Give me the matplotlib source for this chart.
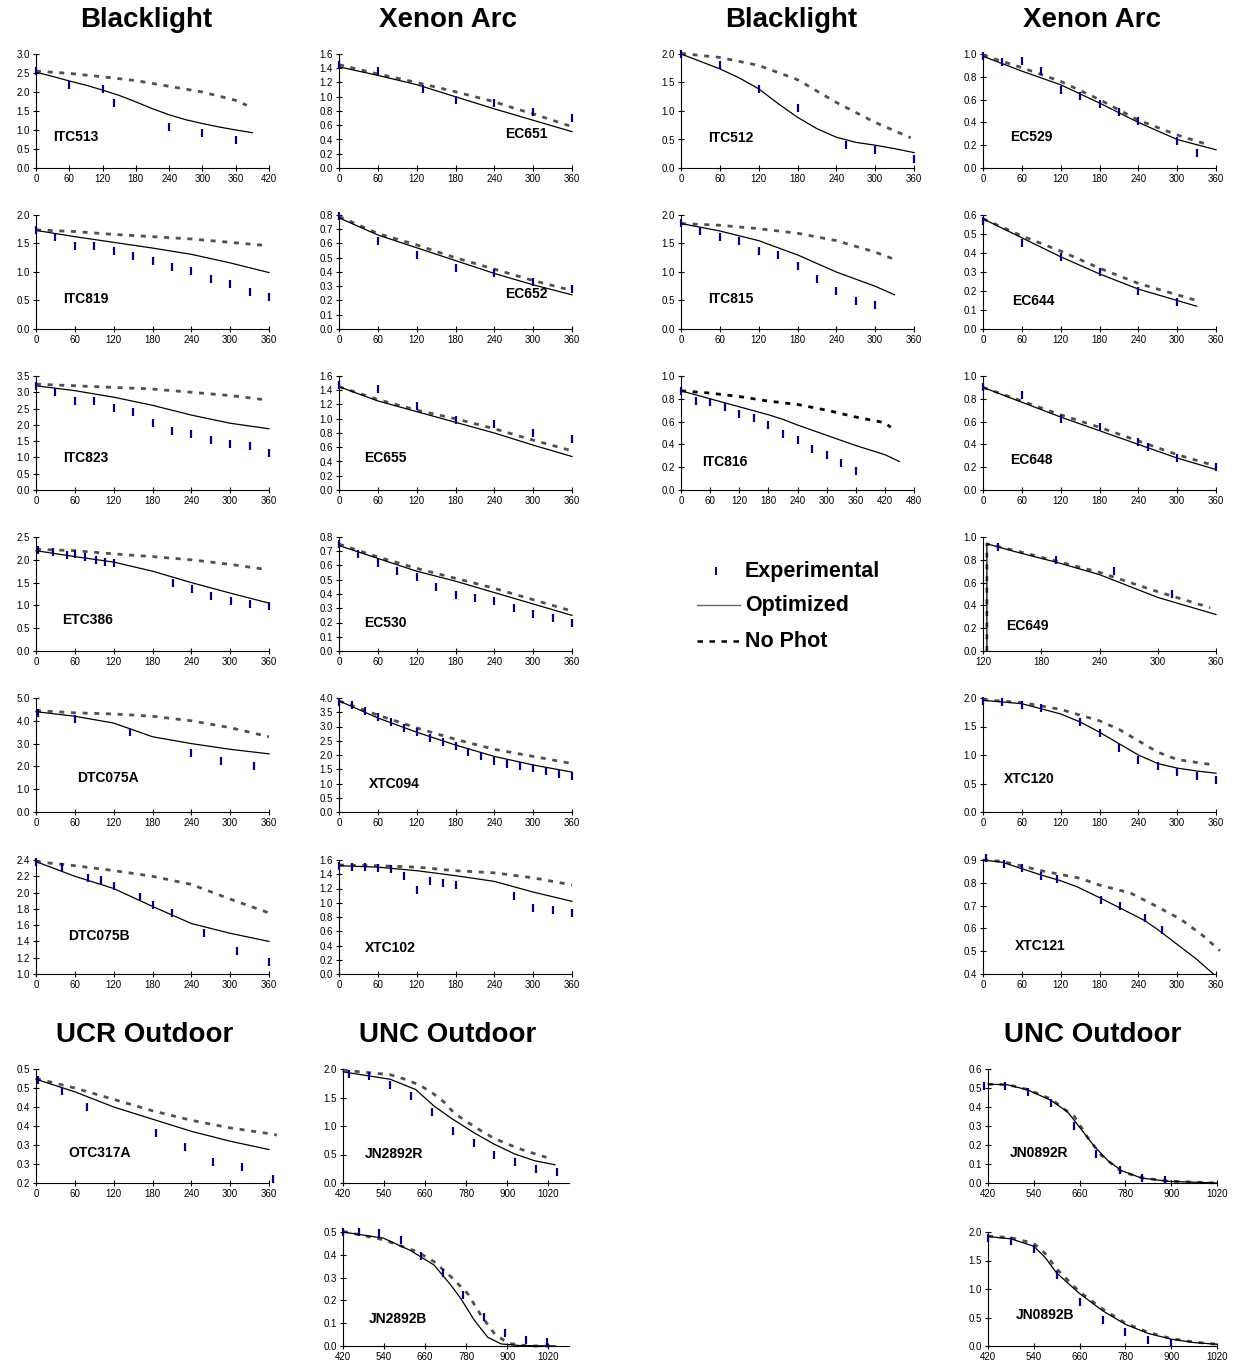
import matplotlib.pyplot as plt
from matplotlib.lines import Line2D
from matplotlib.ticker import FormatStrFormatter, MultipleLocator

plt.rcParams['font.family'] = ['Liberation Sans', 'DejaVu Sans']

# ---------------- data (time in minutes, y = concentration) ----------------
# Blacklight, left column
itc513_exp_t = [0, 60, 120, 140, 240, 300, 360]
itc513_exp_y = [2.55, 2.18, 2.09, 1.71, 1.09, 0.93, 0.74]
itc513_opt_t = [0, 30, 60, 90, 120, 150, 180, 210, 240, 270, 300, 330, 360, 390]
itc513_opt_y = [2.52, 2.41, 2.29, 2.18, 2.05, 1.91, 1.74, 1.56, 1.40, 1.27, 1.17, 1.08, 1.00, 0.93]
itc513_nop_t = [0, 60, 120, 180, 240, 300, 360, 380]
itc513_nop_y = [2.55, 2.49, 2.40, 2.30, 2.15, 2.00, 1.78, 1.65]

itc819_exp_t = [0, 30, 60, 90, 120, 150, 180, 210, 240, 270, 300, 330, 360]
itc819_exp_y = [1.73, 1.62, 1.45, 1.46, 1.37, 1.28, 1.19, 1.08, 1.01, 0.87, 0.79, 0.65, 0.56]
itc819_opt_t = [0, 60, 120, 180, 240, 300, 360]
itc819_opt_y = [1.73, 1.62, 1.52, 1.42, 1.31, 1.16, 0.99]
itc819_nop_t = [0, 60, 120, 180, 240, 300, 350]
itc819_nop_y = [1.74, 1.71, 1.66, 1.62, 1.58, 1.52, 1.47]

itc823_exp_t = [0, 30, 60, 90, 120, 150, 180, 210, 240, 270, 300, 330, 360]
itc823_exp_y = [3.20, 3.00, 2.72, 2.72, 2.52, 2.40, 2.05, 1.82, 1.73, 1.55, 1.42, 1.35, 1.15]
itc823_opt_t = [0, 60, 120, 180, 240, 300, 360]
itc823_opt_y = [3.20, 3.05, 2.85, 2.60, 2.30, 2.05, 1.88]
itc823_nop_t = [0, 60, 120, 180, 240, 300, 350]
itc823_nop_y = [3.25, 3.20, 3.15, 3.10, 3.00, 2.90, 2.78]

etc386_exp_t = [3, 26, 48, 60, 76, 92, 106, 120, 211, 241, 270, 301, 331, 360]
etc386_exp_y = [2.22, 2.17, 2.11, 2.13, 2.07, 2.00, 1.96, 1.93, 1.50, 1.37, 1.20, 1.10, 1.03, 0.98]
etc386_opt_t = [0, 60, 120, 180, 240, 300, 360]
etc386_opt_y = [2.20, 2.07, 1.95, 1.75, 1.50, 1.27, 1.05]
etc386_nop_t = [0, 60, 120, 180, 240, 300, 350]
etc386_nop_y = [2.23, 2.20, 2.13, 2.07, 2.00, 1.90, 1.80]

dtc075a_exp_t = [3, 60, 146, 239, 286, 337]
dtc075a_exp_y = [4.35, 4.10, 3.50, 2.60, 2.25, 2.00]
dtc075a_opt_t = [0, 60, 120, 180, 240, 300, 360]
dtc075a_opt_y = [4.40, 4.20, 3.90, 3.30, 3.00, 2.75, 2.55]
dtc075a_nop_t = [0, 60, 120, 180, 240, 300, 360]
dtc075a_nop_y = [4.45, 4.35, 4.30, 4.20, 4.00, 3.70, 3.30]

dtc075b_exp_t = [0, 40, 80, 100, 120, 160, 180, 210, 260, 310, 360]
dtc075b_exp_y = [2.38, 2.32, 2.18, 2.15, 2.08, 1.95, 1.85, 1.75, 1.50, 1.28, 1.15]
dtc075b_opt_t = [0, 60, 120, 180, 240, 300, 360]
dtc075b_opt_y = [2.38, 2.20, 2.05, 1.83, 1.62, 1.50, 1.40]
dtc075b_nop_t = [0, 60, 120, 180, 240, 300, 360]
dtc075b_nop_y = [2.38, 2.33, 2.27, 2.20, 2.10, 1.92, 1.75]

# Xenon arc, second column
ec651_exp_t = [0, 60, 130, 180, 240, 300, 360]
ec651_exp_y = [1.45, 1.36, 1.11, 0.95, 0.91, 0.79, 0.70]
ec651_opt_t = [0, 60, 120, 180, 240, 300, 360]
ec651_opt_y = [1.42, 1.30, 1.17, 1.00, 0.83, 0.67, 0.51]
ec651_nop_t = [0, 60, 120, 180, 240, 270, 300, 330, 360]
ec651_nop_y = [1.45, 1.32, 1.20, 1.07, 0.93, 0.84, 0.76, 0.67, 0.58]

ec652_exp_t = [0, 60, 120, 180, 240, 300, 360]
ec652_exp_y = [0.79, 0.62, 0.52, 0.43, 0.39, 0.33, 0.28]
ec652_opt_t = [0, 60, 120, 180, 240, 300, 360]
ec652_opt_y = [0.78, 0.66, 0.57, 0.48, 0.39, 0.31, 0.24]
ec652_nop_t = [0, 60, 120, 180, 240, 300, 360]
ec652_nop_y = [0.79, 0.67, 0.59, 0.50, 0.42, 0.34, 0.27]

ec655_exp_t = [0, 60, 120, 180, 240, 300, 360]
ec655_exp_y = [1.48, 1.42, 1.18, 0.98, 0.92, 0.80, 0.72]
ec655_opt_t = [0, 60, 120, 180, 240, 300, 360]
ec655_opt_y = [1.45, 1.25, 1.10, 0.95, 0.80, 0.63, 0.47]
ec655_nop_t = [0, 60, 120, 180, 240, 300, 360]
ec655_nop_y = [1.45, 1.27, 1.12, 1.00, 0.86, 0.70, 0.55]

ec530_exp_t = [0, 30, 60, 90, 120, 150, 180, 210, 240, 270, 300, 330, 360]
ec530_exp_y = [0.75, 0.68, 0.62, 0.56, 0.52, 0.45, 0.39, 0.37, 0.35, 0.30, 0.26, 0.23, 0.20]
ec530_opt_t = [0, 60, 120, 180, 240, 300, 360]
ec530_opt_y = [0.74, 0.65, 0.56, 0.49, 0.41, 0.33, 0.25]
ec530_nop_t = [0, 60, 120, 180, 240, 300, 360]
ec530_nop_y = [0.75, 0.66, 0.58, 0.51, 0.44, 0.36, 0.28]

xtc094_exp_t = [0, 20, 40, 60, 80, 100, 120, 140, 160, 180, 200, 220, 240, 260, 280, 300, 320, 340, 360]
xtc094_exp_y = [3.85, 3.75, 3.55, 3.35, 3.15, 2.95, 2.80, 2.60, 2.45, 2.30, 2.10, 1.95, 1.80,
                1.70, 1.60, 1.55, 1.45, 1.35, 1.25]
xtc094_opt_t = [0, 60, 120, 180, 240, 300, 360]
xtc094_opt_y = [3.90, 3.30, 2.80, 2.35, 1.95, 1.65, 1.40]
xtc094_nop_t = [0, 60, 120, 180, 240, 300, 360]
xtc094_nop_y = [3.90, 3.40, 2.95, 2.55, 2.20, 1.95, 1.70]

xtc102_exp_t = [0, 20, 40, 60, 80, 100, 120, 140, 160, 180, 270, 300, 330, 360]
xtc102_exp_y = [1.52, 1.50, 1.50, 1.49, 1.47, 1.38, 1.18, 1.30, 1.28, 1.25, 1.10, 0.93, 0.90, 0.85]
xtc102_opt_t = [0, 60, 120, 180, 240, 300, 360]
xtc102_opt_y = [1.52, 1.50, 1.45, 1.38, 1.30, 1.15, 1.02]
xtc102_nop_t = [0, 60, 120, 180, 240, 300, 360]
xtc102_nop_y = [1.53, 1.52, 1.50, 1.45, 1.42, 1.35, 1.25]

# Blacklight, third column
itc512_exp_t = [0, 60, 120, 180, 255, 300, 360]
itc512_exp_y = [2.00, 1.80, 1.39, 1.05, 0.40, 0.31, 0.16]
itc512_opt_t = [0, 60, 90, 120, 150, 180, 210, 240, 270, 300, 330, 360]
itc512_opt_y = [2.00, 1.74, 1.58, 1.39, 1.13, 0.89, 0.69, 0.54, 0.45, 0.40, 0.34, 0.27]
itc512_nop_t = [0, 60, 120, 180, 240, 300, 355]
itc512_nop_y = [2.01, 1.94, 1.80, 1.55, 1.15, 0.80, 0.53]

itc815_exp_t = [0, 30, 60, 90, 120, 150, 180, 210, 240, 270, 300]
itc815_exp_y = [1.86, 1.72, 1.61, 1.54, 1.37, 1.30, 1.10, 0.88, 0.67, 0.49, 0.42]
itc815_opt_t = [0, 60, 120, 180, 240, 300, 330]
itc815_opt_y = [1.85, 1.72, 1.55, 1.30, 1.00, 0.75, 0.60]
itc815_nop_t = [0, 60, 120, 180, 240, 300, 330]
itc815_nop_y = [1.85, 1.82, 1.76, 1.68, 1.55, 1.35, 1.22]

itc816_exp_t = [0, 30, 60, 90, 120, 150, 180, 210, 240, 270, 300, 330, 360]
itc816_exp_y = [0.87, 0.78, 0.77, 0.73, 0.67, 0.63, 0.57, 0.49, 0.44, 0.36, 0.31, 0.24, 0.17]
itc816_opt_t = [0, 60, 120, 180, 210, 240, 300, 360, 420, 450]
itc816_opt_y = [0.87, 0.80, 0.73, 0.66, 0.62, 0.57, 0.48, 0.39, 0.31, 0.25]
itc816_nop_t = [0, 60, 120, 180, 240, 300, 360, 420, 432]
itc816_nop_y = [0.87, 0.85, 0.82, 0.78, 0.75, 0.70, 0.64, 0.59, 0.55]

# Xenon arc, fourth column
ec529_exp_t = [0, 30, 60, 90, 120, 150, 180, 210, 240, 300, 330]
ec529_exp_y = [0.98, 0.93, 0.94, 0.85, 0.68, 0.63, 0.56, 0.49, 0.41, 0.24, 0.13]
ec529_opt_t = [0, 60, 120, 180, 240, 300, 360]
ec529_opt_y = [0.98, 0.85, 0.73, 0.57, 0.40, 0.25, 0.16]
ec529_nop_t = [0, 60, 120, 180, 240, 300, 350]
ec529_nop_y = [0.99, 0.88, 0.76, 0.60, 0.42, 0.29, 0.20]

ec644_exp_t = [0, 60, 120, 180, 240, 300]
ec644_exp_y = [0.57, 0.45, 0.38, 0.30, 0.20, 0.14]
ec644_opt_t = [0, 60, 120, 180, 240, 330]
ec644_opt_y = [0.58, 0.48, 0.38, 0.29, 0.21, 0.12]
ec644_nop_t = [0, 60, 120, 180, 240, 330]
ec644_nop_y = [0.58, 0.49, 0.41, 0.32, 0.24, 0.15]

ec648_exp_t = [0, 60, 120, 180, 240, 255, 300, 360]
ec648_exp_y = [0.90, 0.83, 0.62, 0.55, 0.42, 0.38, 0.28, 0.20]
ec648_opt_t = [0, 60, 120, 180, 240, 300, 360]
ec648_opt_y = [0.90, 0.77, 0.64, 0.52, 0.40, 0.28, 0.18]
ec648_nop_t = [0, 60, 120, 180, 240, 300, 360]
ec648_nop_y = [0.90, 0.78, 0.66, 0.55, 0.43, 0.31, 0.21]

ec649_exp_t = [135, 195, 255, 315]
ec649_exp_y = [0.91, 0.80, 0.70, 0.50]
ec649_opt_t = [124, 124, 158, 195, 240, 300, 360]
ec649_opt_y = [0.0, 0.94, 0.86, 0.78, 0.67, 0.47, 0.32]
ec649_nop_t = [124, 124, 158, 195, 240, 300, 354]
ec649_nop_y = [0.0, 0.94, 0.87, 0.79, 0.69, 0.52, 0.38]

xtc120_exp_t = [0, 30, 60, 90, 150, 180, 210, 240, 270, 300, 330, 360]
xtc120_exp_y = [1.95, 1.93, 1.88, 1.83, 1.58, 1.39, 1.13, 0.92, 0.80, 0.70, 0.63, 0.56]
xtc120_opt_t = [0, 60, 120, 150, 180, 210, 240, 270, 300, 330, 360]
xtc120_opt_y = [1.96, 1.90, 1.72, 1.58, 1.40, 1.20, 1.00, 0.85, 0.77, 0.72, 0.68]
xtc120_nop_t = [0, 60, 120, 180, 210, 240, 270, 300, 360]
xtc120_nop_y = [1.97, 1.92, 1.80, 1.60, 1.45, 1.25, 1.05, 0.92, 0.82]

xtc121_exp_t = [4, 32, 61, 89, 114, 182, 211, 251, 276]
xtc121_exp_y = [0.907, 0.882, 0.865, 0.831, 0.817, 0.726, 0.700, 0.646, 0.594]
xtc121_opt_t = [0, 30, 60, 90, 120, 145, 180, 210, 250, 270, 300, 330, 356]
xtc121_opt_y = [0.900, 0.890, 0.862, 0.834, 0.809, 0.783, 0.735, 0.692, 0.634, 0.595, 0.530, 0.465, 0.400]
xtc121_nop_t = [0, 30, 90, 150, 180, 228, 266, 305, 340, 366]
xtc121_nop_y = [0.900, 0.894, 0.853, 0.820, 0.790, 0.755, 0.700, 0.641, 0.568, 0.502]

# Outdoor chambers
otc317a_exp_t = [3, 40, 79, 185, 230, 273, 318, 366]
otc317a_exp_y = [0.470, 0.443, 0.400, 0.332, 0.296, 0.254, 0.241, 0.210]
otc317a_opt_t = [0, 60, 120, 180, 240, 300, 360]
otc317a_opt_y = [0.473, 0.440, 0.400, 0.368, 0.336, 0.310, 0.288]
otc317a_nop_t = [0, 60, 120, 180, 240, 300, 360, 372]
otc317a_nop_y = [0.475, 0.450, 0.420, 0.390, 0.365, 0.345, 0.330, 0.326]
otc317a_yticks = [0.20, 0.25, 0.30, 0.35, 0.40, 0.45, 0.50]
otc317a_ylabels = ['0.2', '0.3', '0.3', '0.4', '0.4', '0.5', '0.5']

jn2892r_exp_t = [438, 497, 558, 620, 681, 742, 802, 862, 923, 983, 1044]
jn2892r_exp_y = [1.91, 1.87, 1.72, 1.52, 1.24, 0.92, 0.70, 0.50, 0.36, 0.25, 0.19]
jn2892r_opt_t = [420, 558, 632, 686, 735, 803, 862, 921, 980, 1039]
jn2892r_opt_y = [1.95, 1.82, 1.64, 1.35, 1.14, 0.88, 0.68, 0.51, 0.39, 0.32]
jn2892r_nop_t = [420, 558, 607, 646, 681, 715, 744, 783, 822, 862, 906, 950, 1014]
jn2892r_nop_y = [1.98, 1.90, 1.81, 1.71, 1.58, 1.42, 1.23, 1.07, 0.92, 0.78, 0.67, 0.57, 0.45]

jn2892b_exp_t = [420, 467, 526, 589, 649, 711, 771, 831, 892, 953, 1015]
jn2892b_exp_y = [0.50, 0.50, 0.495, 0.466, 0.395, 0.318, 0.223, 0.127, 0.056, 0.027, 0.016]
jn2892b_opt_t = [420, 538, 617, 686, 735, 764, 804, 843, 882, 936, 1040]
jn2892b_opt_y = [0.50, 0.473, 0.419, 0.355, 0.267, 0.208, 0.112, 0.038, 0.009, 0.002, 0.0]
jn2892b_nop_t = [420, 538, 636, 686, 735, 784, 823, 863, 902, 961, 1040]
jn2892b_nop_y = [0.503, 0.466, 0.414, 0.370, 0.304, 0.230, 0.134, 0.053, 0.012, 0.0, 0.0]

jn0892r_exp_t = [410, 465, 524, 584, 645, 704, 765, 823, 883]
jn0892r_exp_y = [0.508, 0.508, 0.479, 0.421, 0.300, 0.153, 0.066, 0.026, 0.015]
jn0892r_opt_t = [420, 471, 524, 585, 629, 664, 699, 734, 769, 822, 892, 1020]
jn0892r_opt_y = [0.520, 0.517, 0.490, 0.435, 0.373, 0.283, 0.192, 0.118, 0.066, 0.026, 0.009, 0.0]
jn0892r_nop_t = [420, 471, 524, 585, 647, 681, 716, 769, 822, 892, 1020]
jn0892r_nop_y = [0.520, 0.518, 0.492, 0.442, 0.348, 0.240, 0.147, 0.061, 0.028, 0.010, 0.0]

jn0892b_exp_t = [420, 480, 540, 600, 660, 720, 780, 840, 900]
jn0892b_exp_y = [1.90, 1.85, 1.70, 1.25, 0.78, 0.45, 0.25, 0.10, 0.05]
jn0892b_opt_t = [420, 480, 540, 570, 600, 660, 720, 780, 840, 900, 960, 1020]
jn0892b_opt_y = [1.92, 1.88, 1.75, 1.55, 1.28, 0.92, 0.62, 0.38, 0.22, 0.12, 0.06, 0.03]
jn0892b_nop_t = [420, 480, 540, 570, 600, 660, 720, 780, 840, 900, 960, 1020]
jn0892b_nop_y = [1.93, 1.90, 1.80, 1.62, 1.35, 0.95, 0.65, 0.40, 0.24, 0.13, 0.07, 0.03]

# tick label sets
ticks_0_360 = [0, 60, 120, 180, 240, 300, 360]
ticks_0_420 = [0, 60, 120, 180, 240, 300, 360, 420]
ticks_0_480 = [0, 60, 120, 180, 240, 300, 360, 420, 480]
ticks_120_360 = [120, 180, 240, 300, 360]
ticks_outdoor = [420, 540, 660, 780, 900, 1020]

# ---------------- layout ----------------
FIG_W, FIG_H = 1236, 1368
COL_LEFT = [36, 339, 681, 983]
ROW_TOP = [54, 215, 376, 537, 698, 860, 1069, 1232]
AX_W, AX_H = 233, 114

# name: (series, col, row, xlim, xticks, ylim, ystep, label xy in axes fraction)
panels = [
    ('ITC513', (itc513_exp_t, itc513_exp_y, itc513_opt_t, itc513_opt_y, itc513_nop_t, itc513_nop_y),
     0, 0, (0, 420), ticks_0_420, (0, 3.0), 0.5, (0.073, 0.27)),
    ('ITC819', (itc819_exp_t, itc819_exp_y, itc819_opt_t, itc819_opt_y, itc819_nop_t, itc819_nop_y),
     0, 1, (0, 360), ticks_0_360, (0, 2.0), 0.5, (0.116, 0.26)),
    ('ITC823', (itc823_exp_t, itc823_exp_y, itc823_opt_t, itc823_opt_y, itc823_nop_t, itc823_nop_y),
     0, 2, (0, 360), ticks_0_360, (0, 3.5), 0.5, (0.116, 0.28)),
    ('ETC386', (etc386_exp_t, etc386_exp_y, etc386_opt_t, etc386_opt_y, etc386_nop_t, etc386_nop_y),
     0, 3, (0, 360), ticks_0_360, (0, 2.5), 0.5, (0.11, 0.27)),
    ('DTC075A', (dtc075a_exp_t, dtc075a_exp_y, dtc075a_opt_t, dtc075a_opt_y, dtc075a_nop_t, dtc075a_nop_y),
     0, 4, (0, 360), ticks_0_360, (0, 5.0), 1.0, (0.176, 0.30)),
    ('DTC075B', (dtc075b_exp_t, dtc075b_exp_y, dtc075b_opt_t, dtc075b_opt_y, dtc075b_nop_t, dtc075b_nop_y),
     0, 5, (0, 360), ticks_0_360, (1.0, 2.4), 0.2, (0.137, 0.33)),
    ('OTC317A', (otc317a_exp_t, otc317a_exp_y, otc317a_opt_t, otc317a_opt_y, otc317a_nop_t, otc317a_nop_y),
     0, 6, (0, 360), ticks_0_360, (0.2, 0.5), 0.05, (0.137, 0.26)),
    ('EC651', (ec651_exp_t, ec651_exp_y, ec651_opt_t, ec651_opt_y, ec651_nop_t, ec651_nop_y),
     1, 0, (0, 360), ticks_0_360, (0, 1.6), 0.2, (0.715, 0.30)),
    ('EC652', (ec652_exp_t, ec652_exp_y, ec652_opt_t, ec652_opt_y, ec652_nop_t, ec652_nop_y),
     1, 1, (0, 360), ticks_0_360, (0, 0.8), 0.1, (0.715, 0.31)),
    ('EC655', (ec655_exp_t, ec655_exp_y, ec655_opt_t, ec655_opt_y, ec655_nop_t, ec655_nop_y),
     1, 2, (0, 360), ticks_0_360, (0, 1.6), 0.2, (0.108, 0.28)),
    ('EC530', (ec530_exp_t, ec530_exp_y, ec530_opt_t, ec530_opt_y, ec530_nop_t, ec530_nop_y),
     1, 3, (0, 360), ticks_0_360, (0, 0.8), 0.1, (0.108, 0.245)),
    ('XTC094', (xtc094_exp_t, xtc094_exp_y, xtc094_opt_t, xtc094_opt_y, xtc094_nop_t, xtc094_nop_y),
     1, 4, (0, 360), ticks_0_360, (0, 4.0), 0.5, (0.13, 0.25)),
    ('XTC102', (xtc102_exp_t, xtc102_exp_y, xtc102_opt_t, xtc102_opt_y, xtc102_nop_t, xtc102_nop_y),
     1, 5, (0, 360), ticks_0_360, (0, 1.6), 0.2, (0.112, 0.23)),
    ('JN2892R', (jn2892r_exp_t, jn2892r_exp_y, jn2892r_opt_t, jn2892r_opt_y, jn2892r_nop_t, jn2892r_nop_y),
     1, 6, (420, 1080), ticks_outdoor, (0, 2.0), 0.5, (0.097, 0.25)),
    ('JN2892B', (jn2892b_exp_t, jn2892b_exp_y, jn2892b_opt_t, jn2892b_opt_y, jn2892b_nop_t, jn2892b_nop_y),
     1, 7, (420, 1080), ticks_outdoor, (0, 0.5), 0.1, (0.115, 0.24)),
    ('ITC512', (itc512_exp_t, itc512_exp_y, itc512_opt_t, itc512_opt_y, itc512_nop_t, itc512_nop_y),
     2, 0, (0, 360), ticks_0_360, (0, 2.0), 0.5, (0.116, 0.26)),
    ('ITC815', (itc815_exp_t, itc815_exp_y, itc815_opt_t, itc815_opt_y, itc815_nop_t, itc815_nop_y),
     2, 1, (0, 360), ticks_0_360, (0, 2.0), 0.5, (0.116, 0.26)),
    ('ITC816', (itc816_exp_t, itc816_exp_y, itc816_opt_t, itc816_opt_y, itc816_nop_t, itc816_nop_y),
     2, 2, (0, 480), ticks_0_480, (0, 1.0), 0.2, (0.09, 0.25)),
    ('EC529', (ec529_exp_t, ec529_exp_y, ec529_opt_t, ec529_opt_y, ec529_nop_t, ec529_nop_y),
     3, 0, (0, 360), ticks_0_360, (0, 1.0), 0.2, (0.116, 0.27)),
    ('EC644', (ec644_exp_t, ec644_exp_y, ec644_opt_t, ec644_opt_y, ec644_nop_t, ec644_nop_y),
     3, 1, (0, 360), ticks_0_360, (0, 0.6), 0.1, (0.124, 0.245)),
    ('EC648', (ec648_exp_t, ec648_exp_y, ec648_opt_t, ec648_opt_y, ec648_nop_t, ec648_nop_y),
     3, 2, (0, 360), ticks_0_360, (0, 1.0), 0.2, (0.116, 0.26)),
    ('EC649', (ec649_exp_t, ec649_exp_y, ec649_opt_t, ec649_opt_y, ec649_nop_t, ec649_nop_y),
     3, 3, (120, 360), ticks_120_360, (0, 1.0), 0.2, (0.10, 0.22)),
    ('XTC120', (xtc120_exp_t, xtc120_exp_y, xtc120_opt_t, xtc120_opt_y, xtc120_nop_t, xtc120_nop_y),
     3, 4, (0, 360), ticks_0_360, (0, 2.0), 0.5, (0.09, 0.29)),
    ('XTC121', (xtc121_exp_t, xtc121_exp_y, xtc121_opt_t, xtc121_opt_y, xtc121_nop_t, xtc121_nop_y),
     3, 5, (0, 360), ticks_0_360, (0.4, 0.9), 0.1, (0.137, 0.25)),
    ('JN0892R', (jn0892r_exp_t, jn0892r_exp_y, jn0892r_opt_t, jn0892r_opt_y, jn0892r_nop_t, jn0892r_nop_y),
     3, 6, (420, 1020), ticks_outdoor, (0, 0.6), 0.1, (0.096, 0.26)),
    ('JN0892B', (jn0892b_exp_t, jn0892b_exp_y, jn0892b_opt_t, jn0892b_opt_y, jn0892b_nop_t, jn0892b_nop_y),
     3, 7, (420, 1020), ticks_outdoor, (0, 2.0), 0.5, (0.122, 0.27)),
]

# small per-panel nudges of the axes box (left, width) in pixels
box_fix = {'JN2892R': (343, 226), 'JN2892B': (343, 226),
           'JN0892R': (988, 229), 'JN0892B': (988, 229)}
# panels whose y labels are written out (spreadsheet rounding of 0.05 steps)
ylabel_fix = {'OTC317A': (otc317a_yticks, otc317a_ylabels)}

EXP_COLOR = '#000080'
NOP_COLOR = '#505050'


def axes_rect(left, top, w=AX_W, h=AX_H):
    return [left / FIG_W, 1 - (top + h) / FIG_H, w / FIG_W, h / FIG_H]


fig = plt.figure(figsize=(12.36, 13.68), dpi=100)

for name, series, col, row, xlim, xticks, ylim, ystep, lab in panels:
    et, ey, ot, oy, nt, ny = series
    left, w = box_fix.get(name, (COL_LEFT[col], AX_W))
    ax = fig.add_axes(axes_rect(left, ROW_TOP[row], w))
    nop_color = 'black' if name == 'ITC816' else NOP_COLOR
    ax.plot(nt, ny, color=nop_color, lw=2.0, dashes=(1.8, 2.4), clip_on=False, zorder=2)
    ax.plot(ot, oy, color='black', lw=0.9, clip_on=False, zorder=3)
    ax.plot(et, ey, ls='none', marker='|', ms=6, mew=1.6, color=EXP_COLOR, clip_on=False, zorder=4)
    ax.set_xlim(*xlim)
    ax.set_ylim(*ylim)
    ax.set_xticks(xticks)
    if name in ylabel_fix:
        ax.set_yticks(ylabel_fix[name][0])
        ax.set_yticklabels(ylabel_fix[name][1])
    else:
        ax.yaxis.set_major_locator(MultipleLocator(ystep))
        ax.yaxis.set_major_formatter(FormatStrFormatter('%.1f'))
    for s in ('top', 'right'):
        ax.spines[s].set_visible(False)
    for s in ('left', 'bottom'):
        ax.spines[s].set_linewidth(0.8)
    ax.tick_params(direction='inout', length=5, width=0.8, labelsize=7, pad=2)
    ax.text(lab[0], lab[1], name, transform=ax.transAxes, fontsize=10, fontweight='bold',
            ha='left', va='center')

# column titles
title_kw = dict(fontsize=20, fontweight='bold', ha='center', va='center')
for label, xpx, ypx in [('Blacklight', 146, 20), ('Xenon Arc', 448, 20),
                        ('Blacklight', 791, 20), ('Xenon Arc', 1092, 20),
                        ('UCR Outdoor', 145, 1035), ('UNC Outdoor', 448, 1035),
                        ('UNC Outdoor', 1093, 1035)]:
    fig.text(xpx / FIG_W, 1 - ypx / FIG_H, label, **title_kw)

# legend block
lax = fig.add_axes(axes_rect(681, 537))
lax.set_xlim(0, 1)
lax.set_ylim(0, 1)
lax.axis('off')
lax.add_line(Line2D([0.15], [0.70], ls='none', marker='|', ms=6, mew=1.4, color=EXP_COLOR))
lax.add_line(Line2D([0.069, 0.253], [0.40, 0.40], color='#666666', lw=1.0))
lax.add_line(Line2D([0.069, 0.253], [0.085, 0.085], color='black', lw=1.8, dashes=(2.2, 2.6)))
for txt, yy in [('Experimental', 0.70), ('Optimized', 0.40), ('No Phot', 0.085)]:
    lax.text(0.275, yy, txt, fontsize=15.5, fontweight='bold', ha='left', va='center')

fig.savefig('out.png', dpi=100)
